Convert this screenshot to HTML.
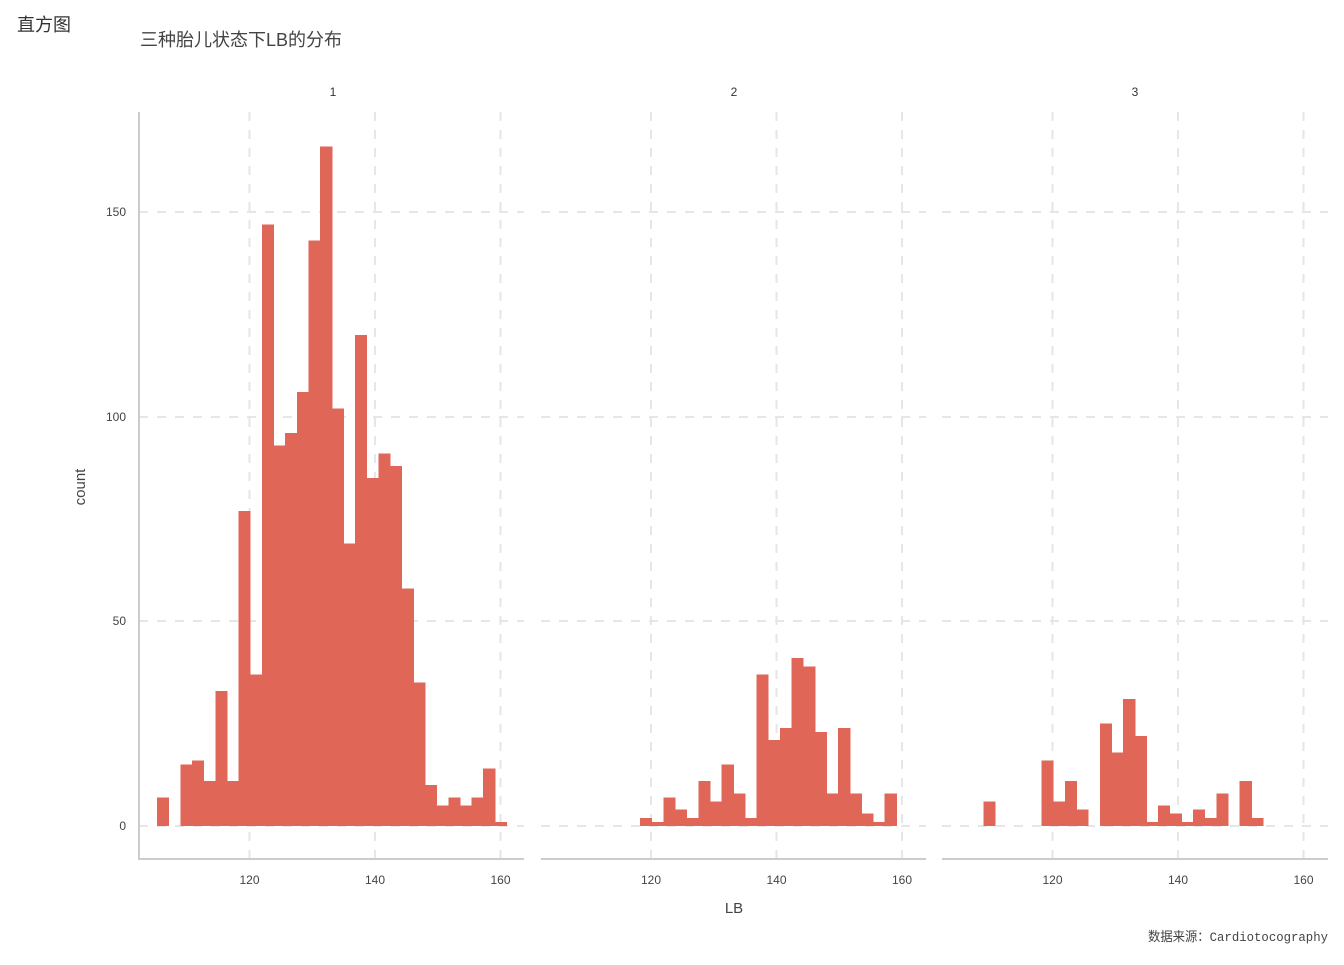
<!DOCTYPE html>
<html><head><meta charset="utf-8"><style>
body{margin:0;background:#fff}
svg text{font-family:"Liberation Sans","Noto Sans CJK SC",sans-serif}
</style></head><body>
<svg width="1344" height="960" xmlns="http://www.w3.org/2000/svg">
<rect width="1344" height="960" fill="#fff"/>
<text x="17" y="31" font-size="18" fill="#333">直方图</text>
<text x="140" y="46" font-size="18" fill="#444">三种胎儿状态下LB的分布</text>
<g font-size="12" fill="#333" text-anchor="middle">
<text x="333" y="96">1</text><text x="734" y="96">2</text><text x="1135" y="96">3</text>
</g>
<g id="grid" stroke="#e6e6e6" stroke-width="2" stroke-dasharray="9,9" fill="none"></g>
<g id="bars" fill="#e06758" shape-rendering="crispEdges"></g>
<g stroke="#cccccc" stroke-width="2">
<line x1="139" y1="112" x2="139" y2="860"/>
<line x1="139" y1="859" x2="524" y2="859"/>
<line x1="541" y1="859" x2="926" y2="859"/>
<line x1="942" y1="859" x2="1328" y2="859"/>
</g>
<g font-size="12" fill="#444" text-anchor="end">
<text x="126" y="216">150</text><text x="126" y="421">100</text><text x="126" y="625">50</text><text x="126" y="830">0</text>
</g>
<g id="xt" font-size="12" fill="#444" text-anchor="middle"></g>
<text x="734" y="913" font-size="15" fill="#444" text-anchor="middle">LB</text>
<text transform="translate(85,487) rotate(-90)" font-size="15" fill="#444" text-anchor="middle">count</text>
<text x="1148" y="941" font-size="13" fill="#444" textLength="180" lengthAdjust="spacingAndGlyphs" style="font-family:'Liberation Mono','Noto Sans CJK SC',monospace">数据来源：Cardiotocography</text>
<script>
var ns="http://www.w3.org/2000/svg";
function el(p,t,a){var e=document.createElementNS(ns,t);for(var k in a)e.setAttribute(k,a[k]);document.getElementById(p).appendChild(e);return e;}
var panels=[[139,524],[541,926],[942,1328]];
var offs=[0,401.5,803];
[212,417,621,826].forEach(function(y){panels.forEach(function(p){el("grid","line",{x1:p[0],x2:p[1],y1:y,y2:y});});});
offs.forEach(function(o){[249.5,375,500.5].forEach(function(x,i){el("grid","line",{x1:x+o,x2:x+o,y1:112,y2:858});var t=el("xt","text",{x:x+o,y:884});t.textContent=[120,140,160][i];});});
var d=[
[7,0,15,16,11,33,11,77,37,147,93,96,106,143,166,102,69,120,85,91,88,58,35,10,5,7,5,7,14,1],
[0,0,0,0,0,0,0,2,1,7,4,2,11,6,15,8,2,37,21,24,41,39,23,8,24,8,3,1,8,0],
[0,0,6,0,0,0,0,16,6,11,4,0,25,18,31,22,1,5,3,1,4,2,8,0,11,2,0,0,0,0]];
var k=4.0933,w=11.65;
d.forEach(function(a,pi){a.forEach(function(c,i){if(!c)return;var x=157+i*w+offs[pi];el("bars","rect",{x:x,y:826-c*k,width:w+0.5,height:c*k});});});
</script>
</svg>
</body></html>
